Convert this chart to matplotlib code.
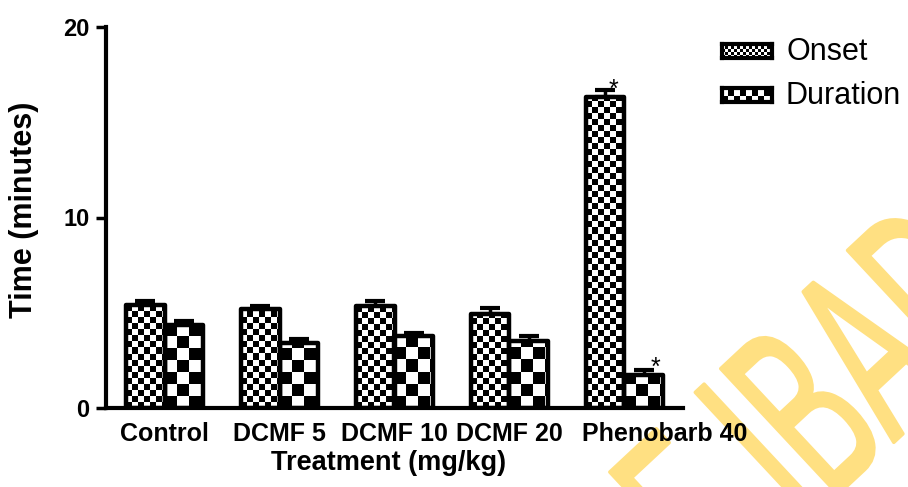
import numpy as np
import matplotlib
matplotlib.use("Agg")
import matplotlib.pyplot as plt
from matplotlib.textpath import TextPath
from matplotlib.patches import PathPatch
from matplotlib.font_manager import FontProperties
from matplotlib.transforms import Affine2D

# data (minutes)
treatments = ["Control", "DCMF 5", "DCMF 10", "DCMF 20", "Phenobarb 40"]
onset = [5.41, 5.20, 5.35, 4.96, 16.33]
onset_err = [0.22, 0.18, 0.25, 0.29, 0.34]
duration = [4.38, 3.39, 3.78, 3.52, 1.73]
duration_err = [0.21, 0.23, 0.18, 0.26, 0.24]
signif_onset = [False, False, False, False, True]
signif_duration = [False, False, False, False, True]
yticks = [0, 10, 20]

# layout (last label sits right of its group in the original)
label_x = [0, 1, 2, 3, 4.35]
W, H = 908, 487
BAR_W = 0.335

plt.rcParams['font.family'] = ['Liberation Sans', 'DejaVu Sans']

fig = plt.figure(figsize=(W / 100, H / 100), dpi=100, facecolor="w")
ax = fig.add_axes([106 / W, 1 - 408 / H, 577 / W, 381 / H])
ax.set_facecolor("none")
ax.set_xlim(-0.509, 4.509)
ax.set_ylim(0, 20)
ax.set_autoscale_on(False)


def checker(a, x0, x1, y0, y1, sq_px, clip=None):
    p0 = a.transData.transform((x0, y0))
    p1 = a.transData.transform((x1, y1))
    w_px = abs(p1[0] - p0[0])
    h_px = abs(p1[1] - p0[1])
    nx = max(1, int(np.ceil(w_px / sq_px)))
    ny = max(1, int(np.ceil(h_px / sq_px)))
    cells = np.add.outer(np.arange(ny), np.arange(nx)) % 2
    ex = x0 + nx * sq_px * (x1 - x0) / w_px
    ey = y0 + ny * sq_px * (y1 - y0) / h_px
    im = a.imshow(cells, cmap="gray", vmin=0, vmax=1, extent=(x0, ex, y0, ey),
                  origin="lower", interpolation="nearest", aspect="auto", zorder=2)
    if clip is not None:
        im.set_clip_path(clip)
    return im


x = np.arange(len(treatments))
x_on = x - BAR_W / 2
x_du = x + BAR_W / 2

# error bars first (only upward)
ax.errorbar(x_on, onset, yerr=[np.zeros(len(onset)), onset_err], fmt="none",
            ecolor="black", elinewidth=2.5, capsize=7.5, capthick=3, zorder=1)
ax.errorbar(x_du, duration, yerr=[np.zeros(len(duration)), duration_err], fmt="none",
            ecolor="black", elinewidth=2.5, capsize=7.5, capthick=3, zorder=1)

bars_on = ax.bar(x_on, onset, BAR_W, facecolor="none", edgecolor="black",
                 linewidth=3.2, joinstyle="round", zorder=3)
bars_du = ax.bar(x_du, duration, BAR_W, facecolor="none", edgecolor="black",
                 linewidth=3.2, joinstyle="round", zorder=3)

for b in bars_on:
    checker(ax, b.get_x(), b.get_x() + b.get_width(), 0, b.get_height(), 6, clip=b)
for b in bars_du:
    checker(ax, b.get_x(), b.get_x() + b.get_width(), 0, b.get_height(), 12, clip=b)

# significance stars
for xi, v, s in zip(x_on, onset, signif_onset):
    if s:
        ax.text(xi + 0.07, v, "*", ha="center", va="baseline", fontsize=18)
for xi, v, s in zip(x_du, duration, signif_duration):
    if s:
        ax.text(xi + 0.1, v, "*", ha="center", va="baseline", fontsize=18)

# axes styling
for side in ["top", "right"]:
    ax.spines[side].set_visible(False)
ax.spines["left"].set_linewidth(3)
ax.spines["bottom"].set_linewidth(3)
ax.set_yticks(yticks)
ax.tick_params(axis="y", length=7, width=2.5, pad=5, labelsize=17)
ax.tick_params(axis="x", length=0, pad=10, labelsize=18)
ax.set_xticks(label_x)
ax.set_xticklabels(treatments)
for lbl in ax.get_xticklabels() + ax.get_yticklabels():
    lbl.set_fontweight("bold")

fig.text(389 / W, 1 - 470 / H, "Treatment (mg/kg)", ha="center", va="baseline",
         fontsize=19.5, fontweight="bold")
fig.text(24 / W, 1 - 210 / H, "Time (minutes)", rotation=90, ha="center",
         va="center", fontsize=22, fontweight="bold")

# legend drawn by hand so the checker pattern shows
for name, top, sq, base in [("Onset", 44, 3, 60), ("Duration", 88, 6, 104)]:
    lax = fig.add_axes([722 / W, 1 - (top + 14) / H, 50 / W, 14 / H])
    lax.set_xlim(0, 1)
    lax.set_ylim(0, 1)
    lax.set_autoscale_on(False)
    checker(lax, 0, 1, 0, 1, sq)
    lax.set_xticks([])
    lax.set_yticks([])
    for sp in lax.spines.values():
        sp.set_linewidth(3)
    fig.text(786 / W, 1 - base / H, name, ha="left", va="baseline", fontsize=22)

# yellow watermark behind everything
wm_font = FontProperties(family="Liberation Sans")
wm_size = 250
squeeze = 0.52
wm_text = "UNIVERSITY OF IBADAN LIBRARY"
lead = "UNIVERSITY OF "
tp = TextPath((0, 0), wm_text, size=wm_size, prop=wm_font)
# locate the stem of the I of IBADAN
tp_lead_i = TextPath((0, 0), lead + "I", size=wm_size, prop=wm_font)
i_cx = tp_lead_i.get_extents().x1 - 0.0466 * wm_size
to_fig = Affine2D().scale(1 / W, 1 / H) + fig.transFigure
tr = (Affine2D().translate(-i_cx, 0).scale(squeeze, 1).rotate_deg(43)
      .translate(817, -27)) + to_fig
fig.add_artist(PathPatch(tp, transform=tr, facecolor="#FFE082", edgecolor="#FFE082",
                         linewidth=2.5, joinstyle="round", zorder=-1))

fig.savefig("out.png", dpi=100, facecolor="w")
